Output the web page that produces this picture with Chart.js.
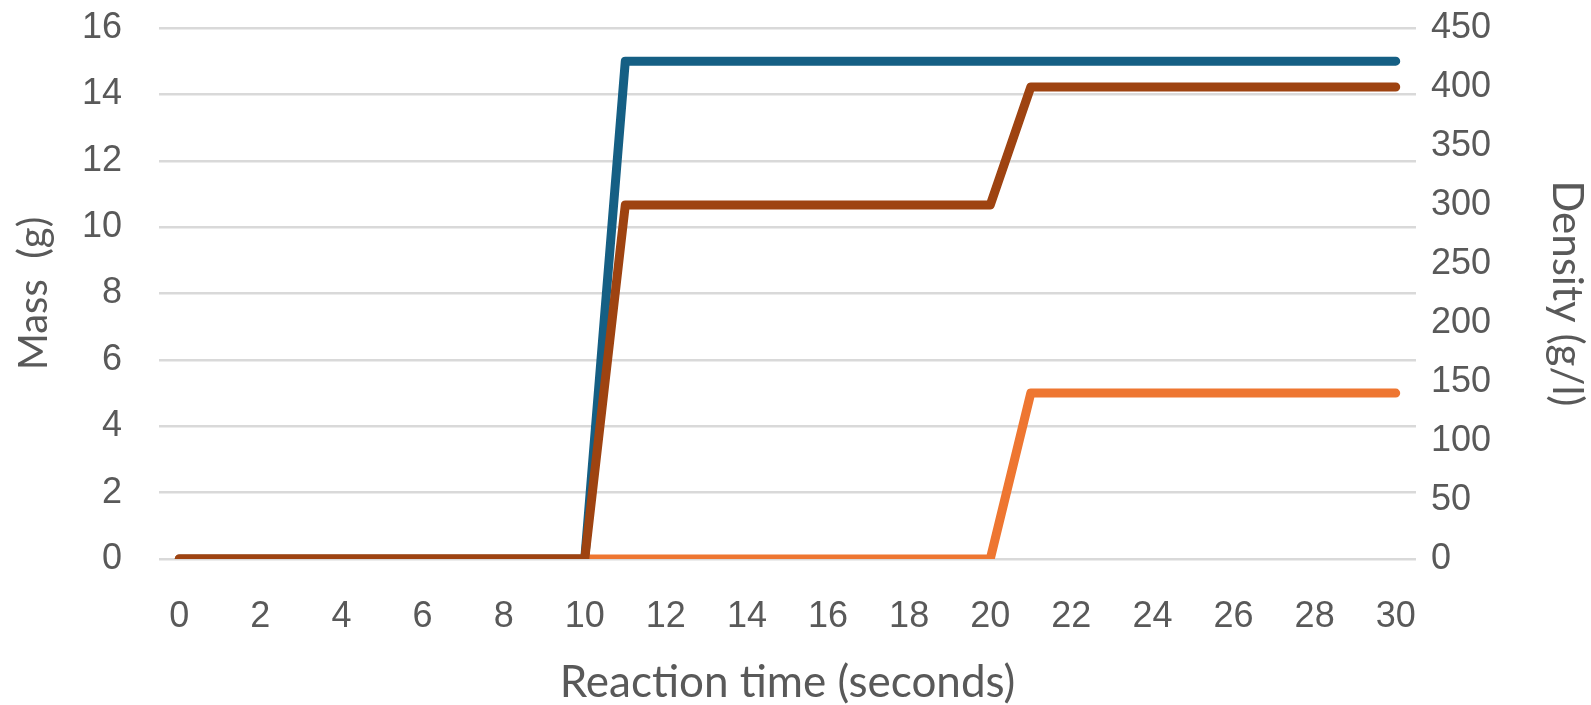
<!DOCTYPE html>
<html>
<head>
<meta charset="utf-8">
<script src="https://cdn.jsdelivr.net/npm/chart.js@4"></script>
<style>
  html, body { margin: 0; padding: 0; background: #ffffff; }
  #wrap { width: 1591px; height: 705px; position: relative; }
</style>
</head>
<body>
<div id="wrap"><canvas id="c"></canvas></div>
<script>
const times = [0,1,2,3,4,5,6,7,8,9,10,11,12,13,14,15,16,17,18,19,20,21,22,23,24,25,26,27,28,29,30];
const massBlue = [0,0,0,0,0,0,0,0,0,0,0,15,15,15,15,15,15,15,15,15,15,15,15,15,15,15,15,15,15,15,15];
const massOrange = [0,0,0,0,0,0,0,0,0,0,0,0,0,0,0,0,0,0,0,0,0,5,5,5,5,5,5,5,5,5,5];
const densityBrown = [0,0,0,0,0,0,0,0,0,0,0,300,300,300,300,300,300,300,300,300,300,400,400,400,400,400,400,400,400,400,400];
const massTicks = [0,2,4,6,8,10,12,14,16];
const densityTicks = [0,50,100,150,200,250,300,350,400,450];

const textColor = '#595959';
const gridColor = '#D9D9D9';
const tickFont = { family: 'Liberation Sans', size: 36 };

new Chart(document.getElementById('c'), {
  type: 'line',
  data: {
    labels: times,
    datasets: [
      { label: 'Density', data: densityBrown, yAxisID: 'y1', borderColor: '#9E4311', order: 1 },
      { label: 'Mass 2', data: massOrange, yAxisID: 'y', borderColor: '#EE7631', order: 2 },
      { label: 'Mass 1', data: massBlue, yAxisID: 'y', borderColor: '#155F84', order: 3 }
    ]
  },
  options: {
    responsive: true,
    maintainAspectRatio: false,
    animation: false,
    devicePixelRatio: 1,
    layout: { padding: { top: 0, left: 0, right: 0, bottom: 0 } },
    elements: {
      line: { borderWidth: 9, tension: 0, borderCapStyle: 'round', borderJoinStyle: 'round', fill: false },
      point: { radius: 0, hoverRadius: 0 }
    },
    plugins: { legend: { display: false }, tooltip: { enabled: false } },
    scales: {
      x: {
        type: 'category',
        offset: true,
        grid: { display: false, drawTicks: false },
        border: { display: false },
        ticks: {
          color: textColor, font: tickFont, padding: 36, maxRotation: 0, autoSkip: false,
          callback: function(v, i) { const t = times[i]; return t % 2 === 0 ? String(t) : null; }
        },
        title: { display: true, text: 'Reaction time (seconds)', color: textColor, font: { family: 'Lato', size: 44 }, padding: { top: 0, bottom: -4 } },
        afterFit: function(s) { s.height = 146; }
      },
      y: {
        type: 'linear',
        position: 'left',
        min: 0, max: 16,
        afterBuildTicks: function(s) { s.ticks = massTicks.map(v => ({ value: v })); },
        grid: { color: gridColor, lineWidth: 2.5, drawTicks: false },
        border: { display: false },
        ticks: { color: textColor, font: tickFont, padding: 37 },
        title: { display: true, text: 'Mass  (g)', color: textColor, font: { family: 'Lato', size: 40 }, padding: { top: 10, bottom: 0 } },
        afterFit: function(s) { s.width = 159; s.paddingTop = 28; s.paddingBottom = 0; }
      },
      y1: {
        type: 'linear',
        position: 'right',
        min: 0, max: 450,
        afterBuildTicks: function(s) { s.ticks = densityTicks.map(v => ({ value: v })); },
        grid: { display: false, drawTicks: false },
        border: { display: false },
        ticks: { color: textColor, font: tickFont, padding: 15 },
        title: { display: true, text: 'Density (g/l)', color: textColor, font: { family: 'Lato', size: 42 }, padding: { top: -1, bottom: 0 } },
        afterFit: function(s) { s.width = 175; s.paddingTop = 28; s.paddingBottom = 0; }
      }
    }
  }
});
</script>
</body>
</html>
